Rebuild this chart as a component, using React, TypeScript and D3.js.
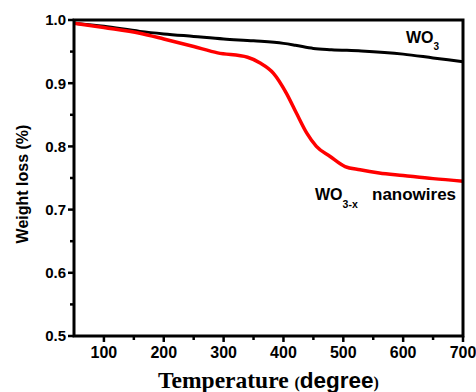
import * as d3 from "d3";

// temperatures (degree)
const wo3Temps = [50, 100, 160, 200, 250, 300, 350, 400, 420, 450, 480, 530, 600, 650, 700];
const wo3Weight = [0.995, 0.99, 0.982, 0.978, 0.974, 0.97, 0.967, 0.963, 0.96, 0.955, 0.953, 0.951, 0.946, 0.94, 0.934];

const wireTemps = [50, 100, 160, 200, 250, 290, 340, 361, 383, 405, 422, 439, 455, 478, 503, 528, 560, 600, 650, 700];
const wireWeight = [0.995, 0.988, 0.979, 0.97, 0.958, 0.948, 0.941, 0.932, 0.916, 0.884, 0.852, 0.821, 0.8, 0.784, 0.768, 0.763, 0.758, 0.754, 0.749, 0.745];

const xTicks = [100, 200, 300, 400, 500, 600, 700];
const xMinor = [150, 250, 350, 450, 550, 650];
const yTicks = [0.5, 0.6, 0.7, 0.8, 0.9, 1.0];
const yMinor = [0.55, 0.65, 0.75, 0.85, 0.95];

const W = 476;
const H = 392;
const m = { left: 74, right: 13, top: 20, bottom: 56 };

const sans = "'Liberation Sans', Arial, sans-serif";
const serif = "'Liberation Serif', 'Times New Roman', serif";

export default function App() {
  const x = d3.scaleLinear().domain([50, 700]).range([m.left, W - m.right]);
  const y = d3.scaleLinear().domain([0.5, 1.0]).range([H - m.bottom, m.top]);

  const line = d3
    .line<[number, number]>()
    .x((d) => x(d[0]))
    .y((d) => y(d[1]))
    .curve(d3.curveMonotoneX);

  const wo3 = line(wo3Temps.map((t, i) => [t, wo3Weight[i]]));
  const wires = line(wireTemps.map((t, i) => [t, wireWeight[i]]));

  const x0 = x(50), x1 = x(700), y0 = y(0.5), y1 = y(1.0);

  return (
    <svg width={W} height={H} style={{ position: "absolute", left: 0, top: 0, background: "#fff" }}>
      {/* curves */}
      <path d={wo3 ?? ""} fill="none" stroke="#000" strokeWidth={3} />
      <path d={wires ?? ""} fill="none" stroke="#ff0000" strokeWidth={3.5} />

      {/* frame */}
      <rect x={x0} y={y1} width={x1 - x0} height={y0 - y1} fill="none" stroke="#000" strokeWidth={3} />

      {/* x ticks */}
      {xTicks.map((t) => (
        <g key={"xt" + t}>
          <line x1={x(t)} x2={x(t)} y1={y0} y2={y0 + 6} stroke="#000" strokeWidth={2.5} />
          <text x={x(t)} y={y0 + 22} textAnchor="middle" fontFamily={sans} fontWeight="bold" fontSize={16}>
            {t}
          </text>
        </g>
      ))}
      {xMinor.map((t) => (
        <line key={"xm" + t} x1={x(t)} x2={x(t)} y1={y0} y2={y0 + 4} stroke="#000" strokeWidth={2.5} />
      ))}

      {/* y ticks */}
      {yTicks.map((t) => (
        <g key={"yt" + t}>
          <line x1={x0 - 6} x2={x0} y1={y(t)} y2={y(t)} stroke="#000" strokeWidth={2.5} />
          <text x={x0 - 8} y={y(t)} dy="0.36em" textAnchor="end" fontFamily={sans} fontWeight="bold" fontSize={15}>
            {t.toFixed(1)}
          </text>
        </g>
      ))}
      {yMinor.map((t) => (
        <line key={"ym" + t} x1={x0 - 4} x2={x0} y1={y(t)} y2={y(t)} stroke="#000" strokeWidth={2.5} />
      ))}

      {/* axis titles */}
      <text x={(x0 + x1) / 2} y={388} textAnchor="middle" fontWeight="bold">
        <tspan fontFamily={serif} fontSize={23.5}>Temperature </tspan>
        <tspan fontFamily={serif} fontSize={16}>(</tspan>
        <tspan fontFamily={sans} fontSize={22.5}>degree</tspan>
        <tspan fontFamily={serif} fontSize={16}>)</tspan>
      </text>
      <text
        transform={`translate(28, ${(y0 + y1) / 2 + 6}) rotate(-90)`}
        textAnchor="middle"
        fontFamily={sans}
        fontWeight="bold"
        fontSize={16}
      >
        Weight loss (%)
      </text>

      {/* series labels */}
      <text x={406} y={43} fontFamily={sans} fontWeight="bold" fontSize={16}>
        WO
        <tspan fontSize={10} dy={7}>3</tspan>
      </text>
      <text x={315} y={200} fontFamily={sans} fontWeight="bold" fontSize={16}>
        WO
        <tspan fontSize={10.5} dy={8}>3-x</tspan>
      </text>
      <text x={372} y={200} fontFamily={sans} fontWeight="bold" fontSize={17}>
        nanowires
      </text>
    </svg>
  );
}
